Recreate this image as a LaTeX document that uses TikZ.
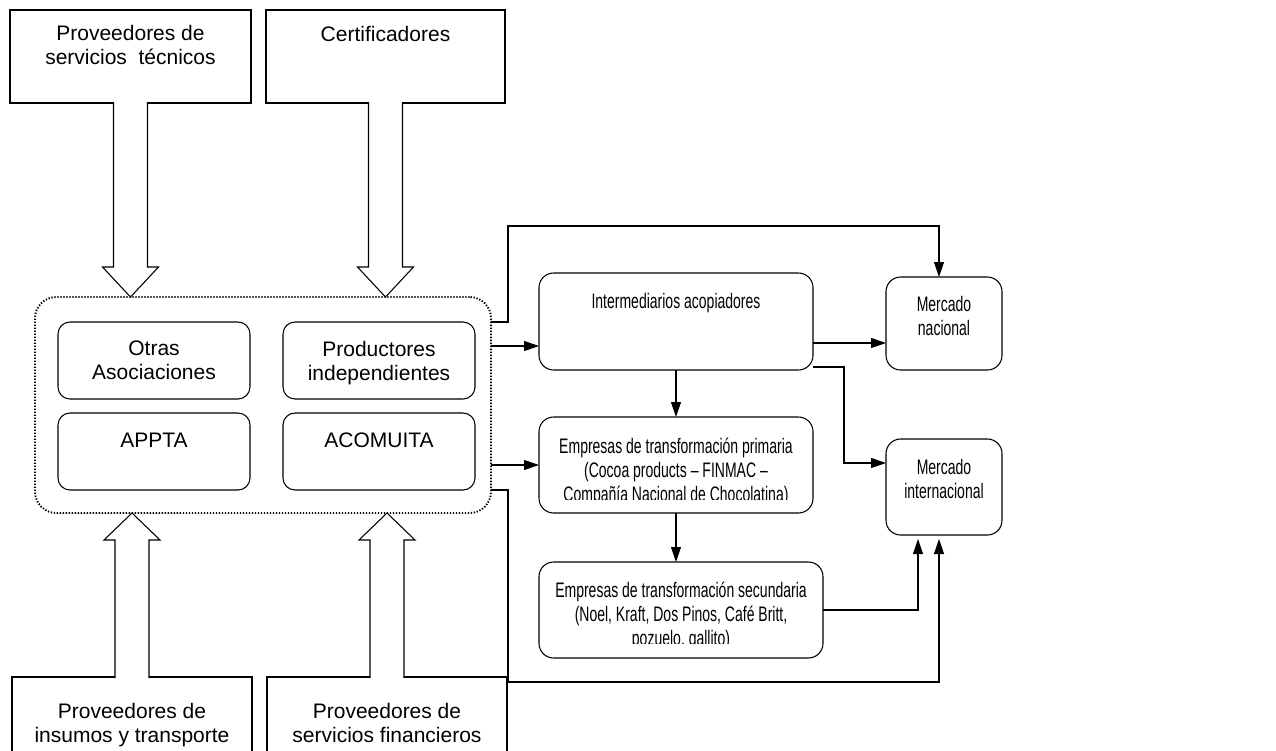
\documentclass[tikz,border=0pt]{standalone}
\usepackage{fontspec}
\setmainfont{Liberation Sans}
\newfontfamily\narrowsans[FakeStretch=0.667,Ligatures=TeX]{Liberation Sans}
\usetikzlibrary{arrows.meta,calc}

\begin{document}
\begin{tikzpicture}[x=0.75pt,y=-0.75pt,
  wh/.style 2 args={minimum width=#1*0.75pt, minimum height=#2*0.75pt},
  base/.style={inner sep=0pt, outer sep=0pt, line width=0.8pt},
  plainbox/.style={base, draw},
  rbox/.style={base, draw, rounded corners=11pt},
  sbox/.style={base, draw, rounded corners=9pt},
  group/.style={base, draw, line width=1.4pt, dash pattern=on 1pt off 1.25pt, rounded corners=16pt},
  txt/.style={inner sep=0pt, align=center, anchor=north, font=\fontsize{15.75}{18}\selectfont},
  ntxt/.style={inner sep=0pt, align=center, anchor=north, font=\narrowsans\fontsize{15.75}{18}\selectfont},
  blk/.style={line width=0.8pt, draw=black, fill=white, line join=miter},
  conn/.style={line width=0.8pt, -{Triangle[length=11.25pt,width=7.5pt]}}
]
\path[use as bounding box] (0,0) rectangle (1276,750);
\clip (0,0) rectangle (1276,750);

% supplier boxes
\node[plainbox, wh={241}{93}] (A) at (130.5,56.5) {};
\node[plainbox, wh={239}{93}] (B) at (385.5,56.5) {};
\node[plainbox, wh={240}{83}] (C) at (132,718.5) {};
\node[plainbox, wh={240}{83}] (D) at (387,718.5) {};
\node[txt] (At) at ($(A.north)+(0,15)$) {Proveedores de\\servicios \ técnicos};
\node[txt] (Bt) at ($(B.north)+(0,16)$) {Certificadores};
\node[txt] (Ct) at ($(C.north)+(0,26)$) {Proveedores de\\insumos y transporte};
\node[txt] (Dt) at ($(D.north)+(0,26)$) {Proveedores de\\servicios financieros};

% producer group
\node[group, wh={456}{216}] (G) at (263,405) {};
\node[sbox, wh={192}{77}] (OA) at (154,360.5) {};
\node[sbox, wh={192}{77}] (PI) at (379,360.5) {};
\node[sbox, wh={192}{77}] (AP) at (154,451.5) {};
\node[sbox, wh={192}{77}] (AC) at (379,451.5) {};
\node[txt] (OAt) at ($(OA.north)+(0,19)$) {Otras\\Asociaciones};
\node[txt] (PIt) at ($(PI.north)+(0,19)$) {Productores\\independientes};
\node[txt] (APt) at ($(AP.north)+(0,20)$) {APPTA};
\node[txt] (ACt) at ($(AC.north)+(0,20)$) {ACOMUITA};

% block arrows into the group
\draw[blk] ($(A.south)+(-17,-1)$) -- ($(A.south |- G.north)+(-17,-30)$) -- ++(-11,0)
  -- (A.south |- G.north) -- ++(28,-30) -- ++(-11,0) -- ($(A.south)+(17,-1)$);
\draw[blk] ($(B.south)+(-17,-1)$) -- ($(B.south |- G.north)+(-17,-30)$) -- ++(-11,0)
  -- (B.south |- G.north) -- ++(28,-30) -- ++(-11,0) -- ($(B.south)+(17,-1)$);
\draw[blk] ($(C.north)+(-17,1)$) -- ($(C.north |- G.south)+(-17,27)$) -- ++(-11,0)
  -- (C.north |- G.south) -- ++(28,27) -- ++(-11,0) -- ($(C.north)+(17,1)$);
\draw[blk] ($(D.north)+(-17,1)$) -- ($(D.north |- G.south)+(-17,27)$) -- ++(-11,0)
  -- (D.north |- G.south) -- ++(28,27) -- ++(-11,0) -- ($(D.north)+(17,1)$);

% chain boxes
\node[rbox, wh={274}{97}] (I) at (676,321.5) {};
\node[rbox, wh={116}{93}] (MN) at (944,323.5) {};
\node[rbox, wh={274}{96}] (EP) at (676,465) {};
\node[rbox, wh={284}{96}] (ES) at (681,610) {};
\node[rbox, wh={116}{96}] (MI) at (944,487) {};
\node[ntxt] (It) at ($(I.north)+(0,20)$) {Intermediarios acopiadores};
\node[ntxt] (MNt) at ($(MN.north)+(0,19)$) {Mercado\\nacional};
\node[ntxt] (MIt) at ($(MI.north)+(0,20)$) {Mercado\\internacional};
\begin{scope}
  \clip (EP.north west) rectangle ($(EP.south east)+(0,-14)$);
  \node[ntxt] (EPt) at ($(EP.north)+(0,21)$) {Empresas de transformación primaria\\(Cocoa products – FINMAC –\\Compañía Nacional de Chocolatina)};
\end{scope}
\begin{scope}
  \clip (ES.north west) rectangle ($(ES.south east)+(0,-15)$);
  \node[ntxt] (ESt) at ($(ES.north)+(0,20)$) {Empresas de transformación secundaria\\(Noel, Kraft, Dos Pinos, Café Britt,\\pozuelo, gallito)};
\end{scope}

% flows
\draw[conn] (G.east |- PI.north) -- ++(17,0) |- ($(MN.north)+(-5,-51)$) -- ($(MN.north)+(-5,0)$);
\draw[conn] ($(G.east |- I.west)+(0,24.5)$) -- ($(I.west)+(0,24.5)$);
\draw[conn] ($(I.east)+(0,21.5)$) -- ($(MN.west |- I.east)+(0,21.5)$);
\draw[conn] ($(I.east)+(0,45.5)$) -- ++(31,0) |- ($(MI.west)+(0,-24)$);
\draw[conn] (I.south) -- (EP.north);
\draw[conn] (G.east |- EP.west) -- (EP.west);
\draw[conn] (EP.south) -- (EP.south |- ES.north);
\draw[conn] (ES.east) -| ($(MI.south)+(-26,4)$);
\draw[conn] (G.east |- AC.south) -- ++(17,0) |- ($(MI.south)+(-5,147)$) -- ($(MI.south)+(-5,4)$);
\end{tikzpicture}
\end{document}
